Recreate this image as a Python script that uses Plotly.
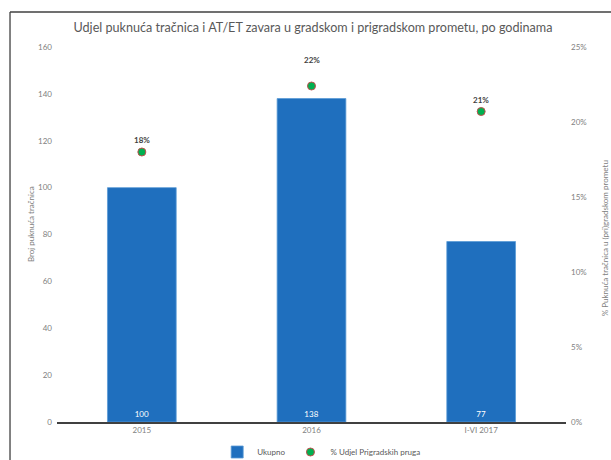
import plotly.graph_objects as go

# Data
godine = ["2015", "2016", "I-VI 2017"]
ukupno = [100, 138, 77]
udjel_prigradskih = [0.180, 0.224, 0.207]
oznaka_pomak = [12, 26, 12]

FONT = "Lato"
GRAY = "#808080"
DARK = "#595959"
BAR = "#1f6fbe"

fig = go.Figure()

fig.add_trace(go.Bar(
    x=godine, y=ukupno, name="Ukupno",
    marker=dict(color=BAR, line=dict(color="#5b9bd5", width=0.8)),
    text=[str(v) for v in ukupno], textposition="inside",
    insidetextanchor="start",
    textfont=dict(color="white", size=8, family=FONT),
    width=0.405, yaxis="y",
))

fig.add_trace(go.Scatter(
    x=godine, y=udjel_prigradskih, name="% Udjel Prigradskih pruga",
    mode="markers", yaxis="y2",
    marker=dict(color="#00b050", size=8, line=dict(color="#c0504d", width=1)),
))

# percentage labels above the markers (category axis -> use the category index)
annotations = []
for i, (v, dy) in enumerate(zip(udjel_prigradskih, oznaka_pomak)):
    annotations.append(dict(
        x=i, y=v, xref="x", yref="y2", text=f"<b>{round(v * 100)}%</b>",
        showarrow=False, yshift=dy, font=dict(size=8, color="#404040", family=FONT),
    ))

annotations.append(dict(
    x=-0.051, y=0.528, xref="paper", yref="paper", text="Broj puknuća tračnica",
    textangle=-90, showarrow=False, xanchor="center", yanchor="middle",
    font=dict(size=8, color=GRAY, family=FONT),
))
annotations.append(dict(
    x=1.0766, y=0.49, xref="paper", yref="paper",
    text="% Puknuća tračnica u (pri)gradskom prometu",
    textangle=-90, showarrow=False, xanchor="center", yanchor="middle",
    font=dict(size=8, color=GRAY, family=FONT),
))

fig.update_layout(
    width=611, height=460,
    margin=dict(l=57, r=45, t=47, b=38, autoexpand=False),
    paper_bgcolor="white", plot_bgcolor="white",
    font=dict(family=FONT, color=GRAY, size=8),
    title=dict(
        text="Udjel puknuća tračnica i AT/ET zavara u gradskom i prigradskom prometu, po godinama",
        x=313 / 611, xanchor="center", y=1 - 28 / 460, yanchor="middle",
        font=dict(size=12.6, color=DARK, family=FONT),
    ),
    xaxis=dict(
        type="category", range=[-0.5, 2.5],
        showline=True, linecolor="#404040", linewidth=1.5,
        showgrid=False, ticks="", tickfont=dict(size=8, color=GRAY),
    ),
    yaxis=dict(
        range=[0, 160], dtick=20, showgrid=False, zeroline=False,
        showline=False, ticks="", tickfont=dict(size=8, color=GRAY),
        ticklabelstandoff=4,
    ),
    yaxis2=dict(
        range=[0, 0.25], dtick=0.05, tickformat=".0%", overlaying="y",
        side="right", showgrid=False, zeroline=False, showline=False,
        ticks="", tickfont=dict(size=8, color=GRAY), ticklabelstandoff=4,
    ),
    legend=dict(
        orientation="h", x=0.52, xanchor="center",
        yref="container", y=(460 - 452) / 460, yanchor="middle",
        font=dict(size=8, color=DARK, family=FONT), itemwidth=30,
        traceorder="normal",
    ),
    annotations=annotations,
    shapes=[
        dict(type="line", xref="paper", yref="paper",
             x0=-0.0923, x1=-0.0923, y0=-0.2, y1=1.0933,
             line=dict(color="#595959", width=1.5)),
        dict(type="line", xref="paper", yref="paper",
             x0=-0.0923, x1=1.1, y0=1.0933, y1=1.0933,
             line=dict(color="#404040", width=1.5)),
    ],
    showlegend=True,
)

fig.write_html("out.html")
